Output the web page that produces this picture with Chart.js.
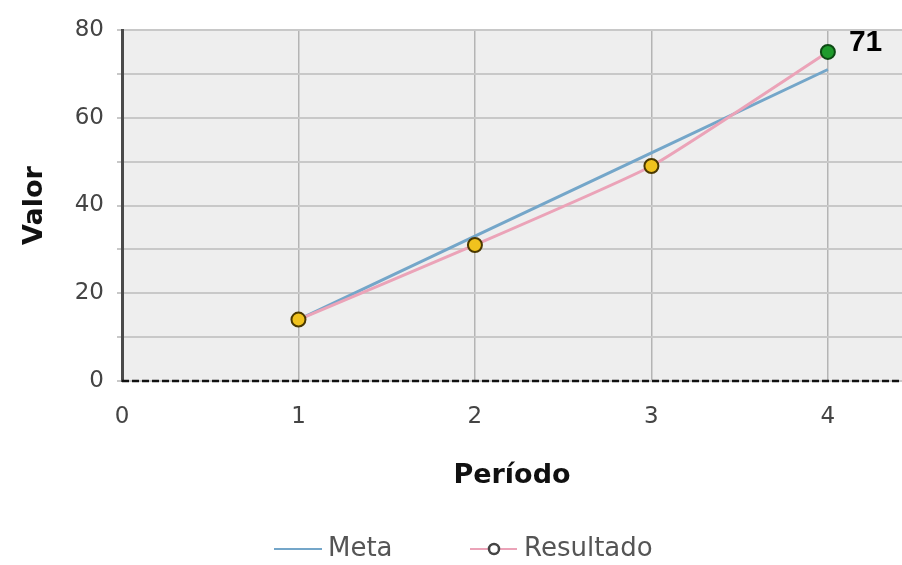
<!DOCTYPE html>
<html>
<head>
<meta charset="utf-8">
<script src="https://cdn.jsdelivr.net/npm/chart.js@4"></script>
<style>
  html, body { margin: 0; padding: 0; background: #fff; }
  #wrap { width: 902px; height: 565px; }
</style>
</head>
<body>
<div id="wrap"><canvas id="chart" width="902" height="565"></canvas></div>
<script>
const periods = [1, 2, 3, 4];
const meta = [14, 33, 52, 71];
const resultado = [14, 31, 49, 75];
const xTicks = [0, 1, 2, 3, 4];
const yTicks = [0, 10, 20, 30, 40, 50, 60, 70, 80];
const yLabels = ['0', '', '20', '', '40', '', '60', '', '80'];

const META_COLOR = '#74a6c9';
const RES_COLOR = '#eba3b8';
const lastIdx = resultado.length - 1;
const FONT = '"DejaVu Sans", sans-serif';

// grey plot background
const plotBg = {
    id: 'plotBg',
    beforeDraw(chart) {
        const { ctx, chartArea: a } = chart;
        ctx.save();
        ctx.fillStyle = '#eeeeee';
        ctx.fillRect(a.left, a.top, a.right - a.left, a.bottom - a.top);
        ctx.restore();
    }
};

// dashed black x axis line (border.dash would also dash the grid)
const dashedAxis = {
    id: 'dashedAxis',
    beforeDatasetsDraw(chart) {
        const { ctx, chartArea: a } = chart;
        ctx.save();
        ctx.strokeStyle = '#111';
        ctx.lineWidth = 2.5;
        ctx.setLineDash([7, 3]);
        ctx.beginPath();
        ctx.moveTo(a.left, a.bottom);
        ctx.lineTo(a.right, a.bottom);
        ctx.stroke();
        ctx.restore();
    }
};

// bold value label next to the last point
const lastLabel = {
    id: 'lastLabel',
    afterDatasetsDraw(chart) {
        const { ctx, scales } = chart;
        const px = scales.x.getPixelForValue(periods[lastIdx]);
        const py = scales.y.getPixelForValue(resultado[lastIdx]);
        ctx.save();
        ctx.font = 'bold 30px "Liberation Sans", Arial, sans-serif';
        ctx.fillStyle = '#000';
        ctx.textBaseline = 'middle';
        ctx.fillText(String(meta[lastIdx]), px + 21, py - 9);
        ctx.restore();
    }
};

// legend drawn by hand: plain line for Meta, line + circle for Resultado
const customLegend = {
    id: 'customLegend',
    afterDraw(chart) {
        const { ctx } = chart;
        const y = chart.height - 16;
        ctx.save();
        ctx.font = '26px ' + FONT;
        ctx.textBaseline = 'middle';

        ctx.strokeStyle = META_COLOR;
        ctx.lineWidth = 2;
        ctx.beginPath(); ctx.moveTo(274, y); ctx.lineTo(322, y); ctx.stroke();
        ctx.fillStyle = '#555';
        ctx.fillText('Meta', 328, y);

        ctx.strokeStyle = RES_COLOR;
        ctx.beginPath(); ctx.moveTo(470, y); ctx.lineTo(517, y); ctx.stroke();
        ctx.beginPath();
        ctx.arc(494, y, 5, 0, Math.PI * 2);
        ctx.fillStyle = '#fff';
        ctx.fill();
        ctx.strokeStyle = '#444';
        ctx.lineWidth = 2.5;
        ctx.stroke();
        ctx.fillStyle = '#555';
        ctx.fillText('Resultado', 524, y);
        ctx.restore();
    }
};

new Chart(document.getElementById('chart'), {
    type: 'line',
    data: {
        datasets: [
            {
                label: 'Meta',
                data: periods.map((p, i) => ({ x: p, y: meta[i] })),
                borderColor: META_COLOR,
                borderWidth: 3,
                pointRadius: 0,
                tension: 0,
                order: 1
            },
            {
                label: 'Resultado',
                data: periods.map((p, i) => ({ x: p, y: resultado[i] })),
                borderColor: RES_COLOR,
                borderWidth: 3,
                tension: 0.15,
                pointRadius: 7,
                pointBorderWidth: 2,
                pointBackgroundColor: c => c.dataIndex === lastIdx ? '#1f9a2c' : '#f0c21e',
                pointBorderColor: c => c.dataIndex === lastIdx ? '#0d4a14' : '#4a3800',
                order: 0
            }
        ]
    },
    options: {
        responsive: false,
        animation: false,
        layout: { autoPadding: false, padding: { top: 30, right: 0, bottom: 60, left: 0 } },
        scales: {
            x: {
                type: 'linear',
                min: 0,
                max: 4.42,
                afterBuildTicks: s => { s.ticks = xTicks.map(v => ({ value: v })); },
                afterFit: s => { s.height = 124; s.paddingLeft = 0; s.paddingRight = 0; },
                ticks: {
                    color: '#444',
                    font: { family: FONT, size: 23 },
                    padding: 22,
                    maxRotation: 0
                },
                grid: {
                    color: c => c.tick && c.tick.value === 0 ? 'rgba(0,0,0,0)' : '#b4b4b4',
                    lineWidth: 1.5,
                    drawTicks: false
                },
                border: { display: false },
                title: {
                    display: true,
                    text: 'Período',
                    color: '#111',
                    font: { family: FONT, size: 27, weight: 'bold' },
                    padding: { top: 0, bottom: 13 }
                }
            },
            y: {
                min: 0,
                max: 80,
                afterBuildTicks: s => { s.ticks = yTicks.map(v => ({ value: v })); },
                afterFit: s => { s.width = 122; s.paddingTop = 0; s.paddingBottom = 0; },
                ticks: {
                    color: '#444',
                    font: { family: FONT, size: 23 },
                    padding: 13,
                    callback: (v, i) => yLabels[i]
                },
                grid: {
                    color: '#c8c8c8',
                    lineWidth: 2,
                    tickLength: 5
                },
                border: { color: '#4a4a4a', width: 3 },
                title: {
                    display: true,
                    text: 'Valor',
                    color: '#111',
                    font: { family: FONT, size: 27, weight: 'bold' },
                    padding: { top: 19, bottom: 0 }
                }
            }
        },
        plugins: {
            legend: { display: false },
            tooltip: { enabled: false }
        }
    },
    plugins: [plotBg, dashedAxis, lastLabel, customLegend]
});
</script>
</body>
</html>
